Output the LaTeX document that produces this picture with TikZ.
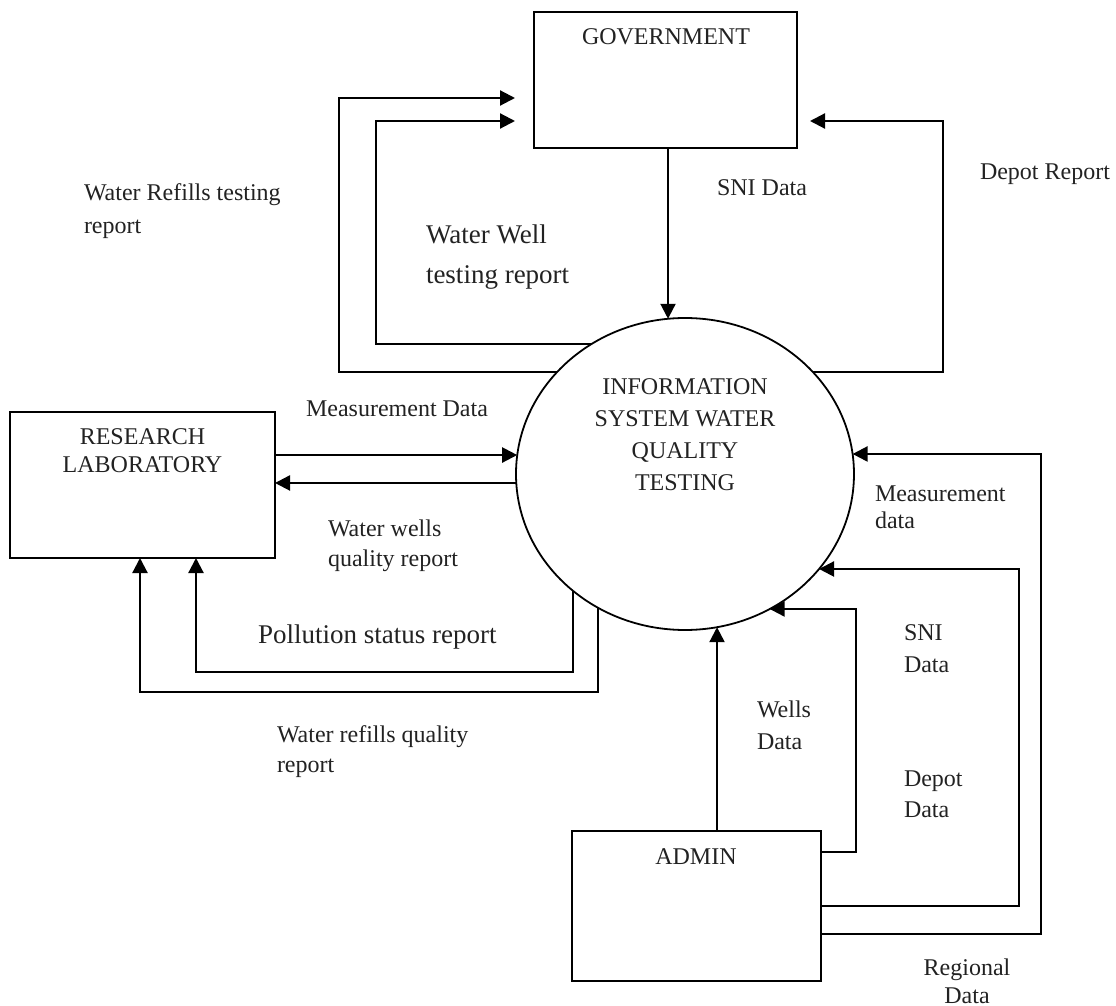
\documentclass[tikz,border=0pt]{standalone}
\usepackage{fontspec}
\setmainfont{Liberation Serif}
\usetikzlibrary{arrows.meta,shapes.geometric,intersections}
\definecolor{txt}{HTML}{222222}
\newcommand{\onL}[2]{\path[name path=hl#1] (0,#2) -- (685,#2); \path[name intersections={of=circ and hl#1, by={#1}}];}
\newcommand{\onR}[2]{\path[name path=hr#1] (685,#2) -- (1116,#2); \path[name intersections={of=circ and hr#1, by={#1}}];}
\newcommand{\onB}[2]{\path[name path=vb#1] (#2,474) -- (#2,1006); \path[name intersections={of=circ and vb#1, by={#1}}];}
\newcommand{\onT}[2]{\path[name path=vt#1] (#2,0) -- (#2,474); \path[name intersections={of=circ and vt#1, by={#1}}];}
\begin{document}
\begin{tikzpicture}[x=0.5pt,y=-0.5pt,
  box/.style={draw, line width=0.9pt, rectangle, inner sep=0pt, outer sep=0pt},
  con/.style={line width=1.1pt},
  arr/.style={con, -{Triangle[length=7.5pt,width=7.5pt]}},
  lbl/.style={inner sep=0pt, outer sep=0pt, text=txt, font=\fontsize{12}{16}\selectfont, align=left},
]
\useasboundingbox (0,0) rectangle (1116,1006);

% entities and process
\node[box, minimum width=131.5pt, minimum height=68pt] (gov) at (665.5,80) {};
\node[lbl, align=center] (govt) at (666,37) {GOVERNMENT};
\node[box, minimum width=132.5pt, minimum height=73pt] (lab) at (142.5,485) {};
\node[lbl, align=center, font=\fontsize{12}{14}\selectfont] (labt) at (142.5,451) {RESEARCH\\LABORATORY};
\node[box, minimum width=124.5pt, minimum height=75pt] (adm) at (696.5,906) {};
\node[lbl] (admt) at (696,857) {ADMIN};
\node[draw, ellipse, line width=0.9pt, minimum width=169pt, minimum height=156pt,
      inner sep=0pt, outer sep=0pt, name path=circ] (circ) at (685,474) {};
\node[lbl, align=center] (circt) at (685,434.5) {INFORMATION\\SYSTEM WATER\\QUALITY\\TESTING};

% border points on the process
\onL{pA}{372} \onL{pB}{344} \onR{pC}{372} \onL{pD}{455} \onL{pE}{483}
\onB{pF}{573} \onB{pG}{598} \onB{pH}{717}
\onR{pI}{609} \onR{pJ}{569} \onR{pK}{454} \onT{pT}{668}

% corner coordinates
\coordinate (r1) at (339,98);
\coordinate (r1b) at (376,121);
\coordinate (r2) at (943,121);
\coordinate (r4) at (196,672);
\coordinate (r5) at (140,692);
\coordinate (r6) at (856,852);
\coordinate (r7) at (1019,906);
\coordinate (r8) at (1041,934);

% connectors
\draw[arr, shorten >=9.5pt] (pA) -| (r1) -- (gov.west |- r1);
\draw[arr, shorten >=9.5pt] (pB) -| (r1b) -- (gov.west |- r1b);
\draw[arr, shorten >=6.5pt] (pC) -| (r2) -- (gov.east |- r2);
\draw[arr] (gov.south -| pT) -- (pT);
\draw[arr] (lab.east |- pD) -- (pD);
\draw[arr] (pE) -- (lab.east |- pE);
\draw[arr] (pF) |- (r4) -- (lab.south -| r4);
\draw[arr] (pG) |- (r5) -- (lab.south -| r5);
\draw[arr] (adm.north -| pH) -- (pH);
\draw[arr] (adm.east |- r6) -- (r6) |- (pI);
\draw[arr] (adm.east |- r7) -- (r7) |- (pJ);
\draw[arr] (adm.east |- r8) -- (r8) |- (pK);

% labels (base anchor = baseline of the last line)
\node[lbl, anchor=base west, font=\fontsize{12}{16.5}\selectfont] (l1) at (84,234) {Water Refills testing\\report};
\node[lbl, anchor=base west, font=\fontsize{13.5}{20}\selectfont] (l2) at (426,284) {Water Well\\testing report};
\node[lbl, anchor=base] (l3) at (762,196) {SNI Data};
\node[lbl, anchor=base west] (l4) at (980,180) {Depot Report};
\node[lbl, anchor=base] (l5) at (397,416) {Measurement Data};
\node[lbl, anchor=base west, font=\fontsize{12}{15}\selectfont] (l6) at (328,567) {Water wells\\quality report};
\node[lbl, anchor=base west, font=\fontsize{13.5}{20}\selectfont] (l7) at (258,643) {Pollution status report};
\node[lbl, anchor=base west, font=\fontsize{12}{15}\selectfont] (l8) at (277,772) {Water refills quality\\report};
\node[lbl, anchor=base west, font=\fontsize{12}{13.5}\selectfont] (l9) at (875,529) {Measurement\\data};
\node[lbl, anchor=base west] (l10) at (757,749) {Wells\\Data};
\node[lbl, anchor=base west] (l11) at (904,672) {SNI\\Data};
\node[lbl, anchor=base west, font=\fontsize{12}{15.5}\selectfont] (l12) at (904,817) {Depot\\Data};
\node[lbl, anchor=base, align=center, font=\fontsize{12}{14}\selectfont] (l13) at (967,1003) {Regional\\Data};
\end{tikzpicture}
\end{document}
